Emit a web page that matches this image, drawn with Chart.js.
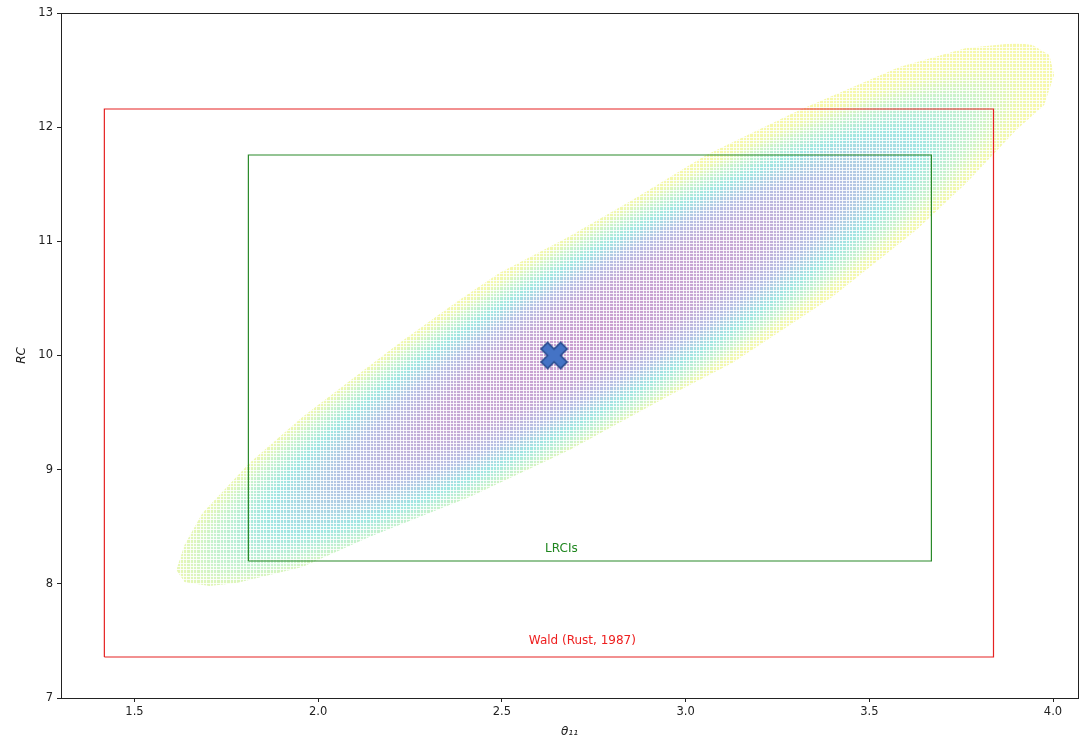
<!DOCTYPE html>
<html>
<head>
<meta charset="utf-8">
<script src="https://cdn.jsdelivr.net/npm/chart.js@4.4.0/dist/chart.umd.min.js"></script>
<style>
  html, body { margin: 0; padding: 0; background: #fff; }
  #wrap { width: 1079px; height: 742px; }
</style>
</head>
<body>
<div id="wrap"><canvas id="lrChart" width="1079" height="742"></canvas></div>
<script>
"use strict";

// outline of the likelihood-ratio confidence region (theta_11, RC)
var regionX = [1.614, 1.636, 1.704, 1.778, 1.957, 2.139, 2.412, 2.684, 2.948, 3.127,
  3.399, 3.628, 3.764, 3.900, 3.976, 4.003, 3.990, 3.944, 3.900, 3.764, 3.582, 3.310,
  3.056, 2.855, 2.676, 2.493, 2.384, 2.221, 1.957, 1.813, 1.685, 1.636, 1.614];
var regionY = [8.121, 8.016, 7.981, 8.007, 8.148, 8.410, 8.761, 9.172, 9.637, 9.934,
  10.512, 11.099, 11.511, 11.975, 12.194, 12.457, 12.632, 12.720, 12.737, 12.693, 12.527, 12.150,
  11.756, 11.362, 11.030, 10.723, 10.486, 10.110, 9.461, 9.058, 8.621, 8.340, 8.121];

// interval boxes: Wald and likelihood-ratio
var waldX = [1.418, 3.838];
var waldY = [7.359, 12.159];
var lrciX = [1.810, 3.669];
var lrciY = [8.200, 11.756];

// point estimate
var mleX = [2.642];
var mleY = [10.0];

var xTicks = [1.5, 2.0, 2.5, 3.0, 3.5, 4.0];
var yTicks = [7, 8, 9, 10, 11, 12, 13];

var boxLabels = ["LRCIs", "Wald (Rust, 1987)"];
var labelX = [2.662, 2.719];
var labelY = [8.305, 7.499];
var labelColors = ["#1f861f", "#ee2020"];

function toPoints(xs, ys) {
  return xs.map(function (x, i) {
    return { x: x, y: ys[i] };
  });
}

function boxPoints(xs, ys) {
  return [
    { x: xs[0], y: ys[0] },
    { x: xs[1], y: ys[0] },
    { x: xs[1], y: ys[1] },
    { x: xs[0], y: ys[1] },
    { x: xs[0], y: ys[0] },
  ];
}

// filled "X" marker like matplotlib's
function crossMarker() {
  var c = document.createElement("canvas");
  c.width = 32;
  c.height = 32;
  var g = c.getContext("2d");
  var a = 4.6, L = 13.8;
  var arm = [[a, L], [-a, L], [-a, a], [-L, a], [-L, -a], [-a, -a],
    [-a, -L], [a, -L], [a, -a], [L, -a], [L, a], [a, a]];
  g.translate(16, 16);
  g.rotate(Math.PI / 4);
  g.beginPath();
  arm.forEach(function (p, i) {
    if (i) g.lineTo(p[0], p[1]);
    else g.moveTo(p[0], p[1]);
  });
  g.closePath();
  g.fillStyle = "#4473c5";
  g.fill();
  g.lineWidth = 1.6;
  g.strokeStyle = "#274a8c";
  g.stroke();
  return c;
}

// shaded grid fill for the region, darker near the estimate
var shadeCache = null;
function regionShade(context) {
  var chart = context.chart;
  if (!chart.chartArea || !chart.scales.x) return "rgba(0,0,0,0)";
  var key = chart.width + "x" + chart.height + ":" + chart.chartArea.right;
  if (shadeCache && shadeCache.key === key) return shadeCache.pattern;

  var c = document.createElement("canvas");
  c.width = chart.width;
  c.height = chart.height;
  var g = c.getContext("2d");
  var cx = chart.scales.x.getPixelForValue(2.75);
  var cy = chart.scales.y.getPixelForValue(10.2);
  g.save();
  g.translate(cx, cy);
  g.rotate(-0.534);
  g.scale(1, 0.19);
  var rad = g.createRadialGradient(0, 0, 0, 0, 0, 520);
  rad.addColorStop(0.0, "rgb(202,158,208)");
  rad.addColorStop(0.35, "rgb(198,170,214)");
  rad.addColorStop(0.55, "rgb(182,192,228)");
  rad.addColorStop(0.72, "rgb(160,230,226)");
  rad.addColorStop(0.85, "rgb(200,242,204)");
  rad.addColorStop(0.94, "rgb(238,248,176)");
  rad.addColorStop(1.0, "rgb(246,248,172)");
  g.fillStyle = rad;
  g.fillRect(-3000, -9000, 6000, 18000);
  g.restore();

  // white gaps between the grid cells
  g.fillStyle = "rgba(255,255,255,0.85)";
  for (var x = 0; x < c.width; x += 3.33) g.fillRect(Math.round(x), 0, 1, c.height);
  for (var y = 0; y < c.height; y += 3.33) g.fillRect(0, Math.round(y), c.width, 1);

  shadeCache = { key: key, pattern: chart.ctx.createPattern(c, "no-repeat") };
  return shadeCache.pattern;
}

var framePlugin = {
  id: "frame",
  afterDatasetsDraw: function (chart) {
    var a = chart.chartArea;
    var ctx = chart.ctx;
    ctx.save();
    ctx.strokeStyle = "#222";
    ctx.lineWidth = 1;
    ctx.strokeRect(a.left + 0.5, a.top + 0.5, a.right - a.left, a.bottom - a.top);
    ctx.restore();
  },
};

var boxLabelPlugin = {
  id: "boxLabels",
  afterDatasetsDraw: function (chart) {
    var ctx = chart.ctx;
    ctx.save();
    ctx.font = "12px 'DejaVu Sans'";
    ctx.textAlign = "center";
    ctx.textBaseline = "middle";
    boxLabels.forEach(function (t, i) {
      ctx.fillStyle = labelColors[i];
      ctx.fillText(t, chart.scales.x.getPixelForValue(labelX[i]), chart.scales.y.getPixelForValue(labelY[i]));
    });
    ctx.restore();
  },
};

var tickFont = { family: "DejaVu Sans", size: 11.5 };
var titleFont = { family: "DejaVu Sans", size: 12, style: "italic" };

new Chart(document.getElementById("lrChart"), {
  type: "line",
  data: {
    datasets: [
      {
        label: "estimate",
        data: toPoints(mleX, mleY),
        showLine: false,
        pointStyle: crossMarker(),
        pointRadius: 13,
      },
      {
        label: "LRCIs",
        data: boxPoints(lrciX, lrciY),
        borderColor: "#2a8a2a",
        borderWidth: 1.2,
        pointRadius: 0,
        fill: false,
      },
      {
        label: "Wald",
        data: boxPoints(waldX, waldY),
        borderColor: "#e52222",
        borderWidth: 1.2,
        pointRadius: 0,
        fill: false,
      },
      {
        label: "region",
        data: toPoints(regionX, regionY),
        borderColor: "rgba(0,0,0,0)",
        borderWidth: 0,
        pointRadius: 0,
        fill: "shape",
        backgroundColor: regionShade,
      },
    ],
  },
  options: {
    responsive: false,
    animation: false,
    events: [],
    layout: { autoPadding: false, padding: { left: 0, right: 1, top: 13, bottom: 0 } },
    plugins: {
      legend: { display: false },
      tooltip: { enabled: false },
    },
    scales: {
      x: {
        type: "linear",
        min: 1.3,
        max: 4.068,
        afterBuildTicks: function (s) {
          s.ticks = xTicks.map(function (v) { return { value: v }; });
        },
        afterFit: function (s) {
          s.height = 44;
          s.paddingLeft = 0;
          s.paddingRight = 0;
        },
        grid: { display: true, drawOnChartArea: false, drawTicks: true, tickLength: 4, color: "#222" },
        border: { display: false },
        ticks: {
          font: tickFont,
          color: "#222",
          padding: 3,
          maxRotation: 0,
          autoSkip: false,
          callback: function (v) { return Number(v).toFixed(1); },
        },
        title: { display: true, text: "θ₁₁", font: titleFont, color: "#222", padding: { top: 0, bottom: 3 } },
      },
      y: {
        type: "linear",
        min: 7,
        max: 13,
        afterBuildTicks: function (s) {
          s.ticks = yTicks.map(function (v) { return { value: v }; });
        },
        afterFit: function (s) {
          s.width = 61;
          s.paddingTop = 0;
          s.paddingBottom = 0;
        },
        grid: { display: true, drawOnChartArea: false, drawTicks: true, tickLength: 4, color: "#222" },
        border: { display: false },
        ticks: {
          font: tickFont,
          color: "#222",
          padding: 4,
          autoSkip: false,
          callback: function (v) { return String(v); },
        },
        title: { display: true, text: "RC", font: titleFont, color: "#222", padding: { top: 15, bottom: 0 } },
      },
    },
  },
  plugins: [framePlugin, boxLabelPlugin],
});
</script>
</body>
</html>
